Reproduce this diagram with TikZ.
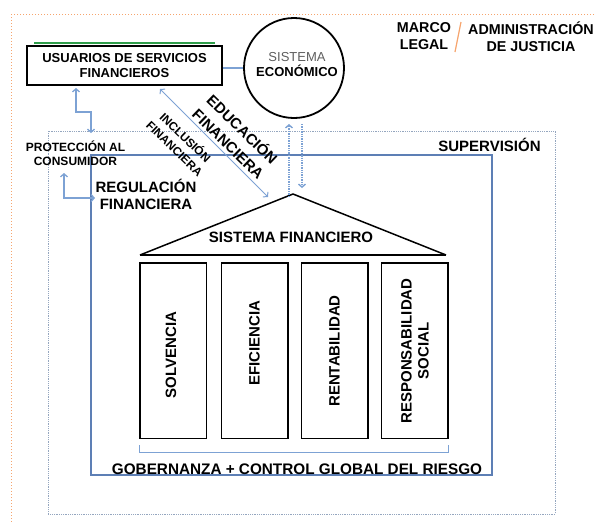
\documentclass[tikz,border=0pt]{standalone}
\usepackage{fontspec}
\setmainfont{Liberation Sans}
\usetikzlibrary{arrows.meta}
\definecolor{frameblue}{HTML}{5D7FB5}
\definecolor{linkblue}{HTML}{7DA2D4}
\definecolor{dotgray}{HTML}{95A6BF}
\definecolor{legalorange}{HTML}{F6A56E}
\definecolor{softgray}{HTML}{5E5E5E}
\definecolor{topgreen}{HTML}{2E9E4A}
\newcommand{\fsz}[2]{\fontsize{#1}{#2}\selectfont}
\begin{document}
\begin{tikzpicture}[x=1pt,y=-1pt,
  lbl/.style={font=\bfseries, inner sep=0pt, align=center, text=black},
  link/.style={draw=linkblue, line width=1.3pt,
    {Straight Barb[length=3pt,width=7pt]}-{Straight Barb[length=3pt,width=7pt]}},
  dotlink/.style={draw=linkblue, line width=1.4pt, densely dotted,
    -{Straight Barb[length=3pt,width=7pt]}},
  pillar/.style={draw, line width=1.5pt, minimum width=66.5pt,
    minimum height=175.5pt, inner sep=0pt},
  big/.style={lbl, font=\bfseries\fsz{15}{17}},
]
\useasboundingbox (0,0) rectangle (595,523);
\clip (0,0) rectangle (595,523);

% nested frames: legal framework, supervision, regulation
\draw[legalorange, line width=1pt, dotted] (11,14) rectangle (640,560);
\draw[dotgray, line width=0.8pt, densely dotted] (48,131) rectangle (555,514);
\draw[frameblue, line width=1.2pt] (91,155) rectangle (492,475);

% users of financial services
\node[draw, line width=2pt, minimum width=195pt, minimum height=39pt,
  lbl, font=\bfseries\fsz{13}{15}] (users) at (124.5,65.5)
  {USUARIOS DE SERVICIOS\\FINANCIEROS};
\draw[topgreen, line width=1.2pt]
  ([xshift=8pt,yshift=2pt]users.north west) -- ([xshift=-8pt,yshift=2pt]users.north east);

% economic system
\node[circle, draw, line width=1.8pt, minimum size=100pt, inner sep=0pt] (eco) at (294,68) {};
\node[lbl, font=\bfseries\fsz{13}{15}] (ecotxt) at (297,64.5)
  {\textcolor{softgray}{\mdseries SISTEMA}\\ECONÓMICO};
\draw[linkblue, line width=2pt] (users.east |- eco.west) -- (eco.west);

% legal framework / justice
\node[lbl, font=\bfseries\fsz{14.3}{17}] (marco) at (424,36.5) {MARCO\\LEGAL};
\coordinate (slashA) at (461,22);
\coordinate (slashB) at (455,52);
\draw[legalorange, line width=1.2pt] (slashA) -- (slashB);
\node[lbl, font=\bfseries\fsz{14.3}{17}] (admin) at (531,36.5) {ADMINISTRACIÓN\\DE JUSTICIA};

% side labels
\node[big] (super) at (489.5,145) {SUPERVISIÓN};
\node[lbl, font=\bfseries\fsz{12}{14}] (prot) at (75.5,153) {PROTECCIÓN AL\\CONSUMIDOR};
\node[big] (reg) at (146,194) {REGULACIÓN\\FINANCIERA};
\node[lbl, rotate=-44, font=\bfseries\fsz{15}{20}] (edu) at (236,136) {EDUCACIÓN\\FINANCIERA};
\node[lbl, rotate=-44, font=\bfseries\fsz{11.8}{15.5}] (incl) at (180.5,142.5) {INCLUSIÓN\\FINANCIERA};

% consumer protection links
\coordinate (colA) at (76,0);
\coordinate (protIn) at (91,133);
\draw[link, shorten <=2pt] (users.south -| colA) |- (91,112) -- (protIn);
\coordinate (protOut) at (64,173);
\coordinate (regIn) at (95,198);
\draw[link] (protOut) |- (regIn);

% financial system (temple)
\coordinate (apex) at (293,194);
\coordinate (baseL) at (140,255);
\coordinate (baseR) at (446,255);
\draw[line width=1.5pt, line join=round] (baseL) -- (apex) -- (baseR);
\draw[line width=2.5pt] (baseL) -- (baseR);
\node[big] (sf) at (291,237) {SISTEMA FINANCIERO};

% inclusion / education link
\coordinate (inclA) at (160,89);
\coordinate (inclB) at (268,197);
\draw[link, line width=1pt] (inclA) -- (inclB);

% links with the economic system
\coordinate (upS) at (289,197);
\coordinate (upE) at (289,124);
\coordinate (dnS) at (302,124);
\coordinate (dnE) at (302,188);
\draw[dotlink] (upS) -- (upE);
\draw[dotlink] (dnS) -- (dnE);

% pillars
\node[pillar] (p1) at (173,350.5) {};
\node[pillar] (p2) at (254.5,350.5) {};
\node[pillar] (p3) at (334.5,350.5) {};
\node[pillar] (p4) at (414.5,350.5) {};
\node[big, rotate=90] (t1) at (171,355) {SOLVENCIA};
\node[big, rotate=90] (t2) at (254.5,343) {EFICIENCIA};
\node[big, rotate=90] (t3) at (334.5,351) {RENTABILIDAD};
\node[big, rotate=90] (t4) at (415,351) {RESPONSABILIDAD\\SOCIAL};

% governance bracket
\draw[linkblue, line width=0.9pt]
  ([yshift=-6pt]p1.south west) -- ([yshift=-13pt]p1.south west)
  -- ([yshift=-13pt]p4.south east) -- ([yshift=-6pt]p4.south east);
\node[lbl, font=\bfseries\fsz{15.3}{17}] (gov) at (297,469) {GOBERNANZA + CONTROL GLOBAL DEL RIESGO};
\end{tikzpicture}
\end{document}
